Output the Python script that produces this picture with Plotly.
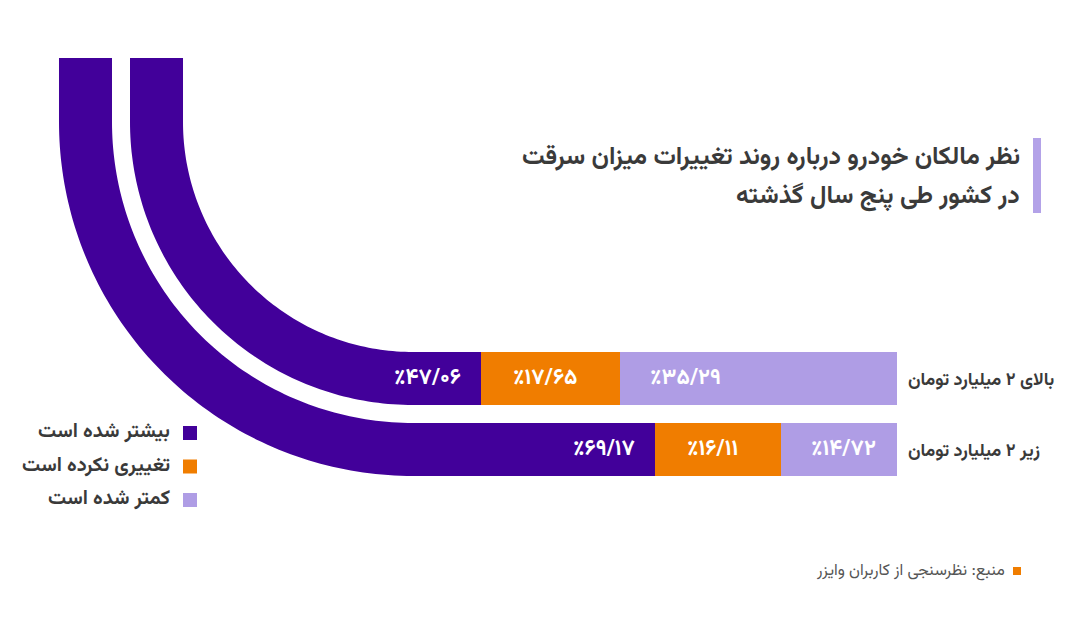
import numpy as np
import plotly.graph_objects as go

# ---------------- data ----------------
categories = ["بالای ۲ میلیارد تومان", "زیر ۲ میلیارد تومان"]
series_names = ["بیشتر شده است", "تغییری نکرده است", "کمتر شده است"]
more_vals = [47.06, 69.17]        # بیشتر شده است
same_vals = [17.65, 16.11]        # تغییری نکرده است
less_vals = [35.29, 14.72]        # کمتر شده است
title_lines = ["نظر مالکان خودرو درباره روند تغییرات میزان سرقت",
               "در کشور طی پنج سال گذشته"]
source_text = "منبع: نظرسنجی از کاربران وایزر"

# ---------------- style ----------------
OFF = 8                      # page body margin
W, H = 1080 - OFF, 628 - OFF
C_MORE = "#42009A"
C_SAME = "#F07D00"
C_LESS = "#AF9DE5"
C_TXT = "#3a3a3a"
FONT = "Vazirmatn, 'Noto Sans Arabic', 'DejaVu Sans', sans-serif"

PX_PER_UNIT = 7.85
X_LEFT_PX, X_RIGHT_PX = 413, 897
x_range_max = (X_RIGHT_PX - X_LEFT_PX) / PX_PER_UNIT
Y_TOP_PX, Y_BOT_PX = 343, 485

fa_digits = str.maketrans("0123456789", "۰۱۲۳۴۵۶۷۸۹")


def fa_pct(v):
    return "٪" + f"{v:.2f}".replace(".", "/").translate(fa_digits)


def px(x):
    return (x - OFF) / W


def py(y):
    return 1 - (y - OFF) / H


fig = go.Figure()
# stacked from the right (reversed axis): less, same, more
for name, vals, col in [(series_names[2], less_vals, C_LESS),
                        (series_names[1], same_vals, C_SAME),
                        (series_names[0], more_vals, C_MORE)]:
    fig.add_trace(go.Bar(
        y=categories, x=vals, orientation="h", name=name,
        marker=dict(color=col, line=dict(width=0)),
        hoverinfo="skip", showlegend=False,
    ))

annotations = []
shapes = []
lab_font = dict(family=FONT, size=22, color="white", weight="bold")

# value labels
for i, cat in enumerate(categories):
    l, s, m = less_vals[i], same_vals[i], more_vals[i]
    annotations.append(dict(x=l, y=cat, xref="x", yref="y", text=fa_pct(l),
                            showarrow=False, xanchor="left", xshift=28, font=lab_font))
    annotations.append(dict(x=l + s, y=cat, xref="x", yref="y", text=fa_pct(s),
                            showarrow=False, xanchor="left", xshift=30, font=lab_font))
    annotations.append(dict(x=l + s, y=cat, xref="x", yref="y", text=fa_pct(m),
                            showarrow=False, xanchor="right", xshift=-18, font=lab_font))

# decorative curved continuation of the "more" segments
cx, cy = X_LEFT_PX, 122
top_y = 58
bands = [(230, 283), (301, 354)]
for r_in, r_out in bands:
    th = np.linspace(np.pi / 2, np.pi, 90)
    outer = [(cx + r_out * np.cos(t), cy + r_out * np.sin(t)) for t in th]
    inner = [(cx + r_in * np.cos(t), cy + r_in * np.sin(t)) for t in th[::-1]]
    pts = [(cx + 2, cy + r_out)] + outer + [(cx - r_out, top_y), (cx - r_in, top_y)] + inner + [(cx + 2, cy + r_in)]
    path = "M " + " L ".join(f"{px(a):.5f},{py(b):.5f}" for a, b in pts) + " Z"
    shapes.append(dict(type="path", path=path, xref="paper", yref="paper",
                       fillcolor=C_MORE, line=dict(width=0), layer="below"))

# title
shapes.append(dict(type="rect", xref="paper", yref="paper",
                   x0=px(1033), x1=px(1041), y0=py(213), y1=py(138),
                   fillcolor="#B3A2E8", line=dict(width=0)))
for j, line in enumerate(title_lines):
    annotations.append(dict(x=px(1022), y=py(157 + 40 * j), xref="paper", yref="paper",
                            text=line, showarrow=False, xanchor="right", yanchor="middle",
                            font=dict(family=FONT, size=25, color=C_TXT, weight="bold")))

# legend (squares on the right of the text, RTL style)
leg_cols = [C_MORE, C_SAME, C_LESS]
for k, (nm, col) in enumerate(zip(series_names, leg_cols)):
    yc = 433 + 33.5 * k
    shapes.append(dict(type="rect", xref="paper", yref="paper",
                       x0=px(183), x1=px(197), y0=py(yc + 7), y1=py(yc - 7),
                       fillcolor=col, line=dict(width=0)))
    annotations.append(dict(x=px(172), y=py(yc - 1), xref="paper", yref="paper",
                            text=nm, showarrow=False, xanchor="right", yanchor="middle",
                            font=dict(family=FONT, size=20, color=C_TXT, weight="bold")))

# source
shapes.append(dict(type="rect", xref="paper", yref="paper",
                   x0=px(1013), x1=px(1021), y0=py(575), y1=py(567),
                   fillcolor=C_SAME, line=dict(width=0)))
annotations.append(dict(x=px(1007), y=py(571), xref="paper", yref="paper",
                        text=source_text, showarrow=False, xanchor="right", yanchor="middle",
                        font=dict(family=FONT, size=16, color="#555555")))

fig.update_layout(
    barmode="stack",
    bargap=0.254,
    width=W, height=H,
    margin=dict(l=0, r=0, t=0, b=0),
    paper_bgcolor="white", plot_bgcolor="white",
    showlegend=False,
    xaxis=dict(domain=[px(X_LEFT_PX), px(X_RIGHT_PX)], range=[x_range_max, 0],
               showgrid=False, zeroline=False, showticklabels=False, showline=False,
               fixedrange=True),
    yaxis=dict(domain=[py(Y_BOT_PX), py(Y_TOP_PX)], range=[1.5, -0.5],
               type="category", categoryorder="array", categoryarray=categories,
               side="right", showgrid=False, zeroline=False, showline=False, ticks="",
               ticklabelstandoff=10,
               tickfont=dict(family=FONT, size=18, color=C_TXT, weight="bold"),
               fixedrange=True),
    annotations=annotations,
    shapes=shapes,
    font=dict(family=FONT),
)

fig.write_html("out.html")
